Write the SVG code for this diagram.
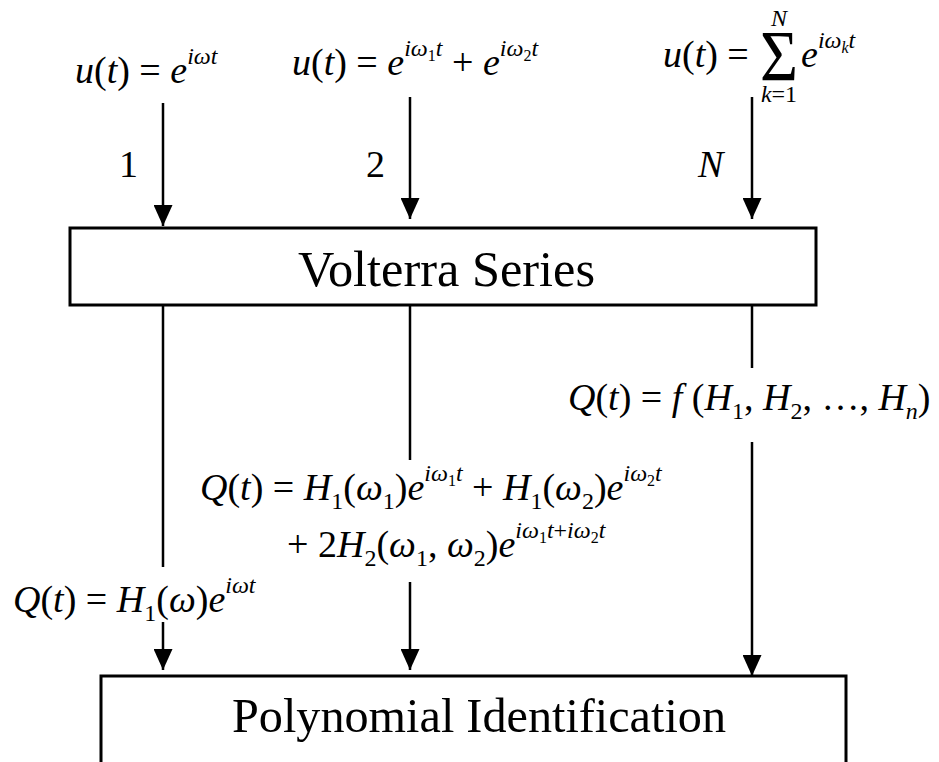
<svg xmlns="http://www.w3.org/2000/svg" width="939" height="762" viewBox="0 0 939 762">
<defs>
<marker id="ah" markerWidth="21" markerHeight="19" refX="21" refY="9.5" orient="auto" markerUnits="userSpaceOnUse" viewBox="0 0 21 19">
<path d="M0,0 L21,9.5 L0,19 Z" fill="#000"/>
</marker>
<style>
.f{font-family:"Liberation Serif","Times New Roman",serif;fill:#000}
.m{font-size:38px}
.i{font-style:italic}
.s{font-size:24px}
.ss{font-size:16px}
.box{fill:#fff;stroke:#000;stroke-width:3}
.ln{stroke:#000;stroke-width:2.5;fill:none}
.ar{stroke:#000;stroke-width:2.5;fill:none;marker-end:url(#ah)}
</style>
</defs>
<rect width="939" height="762" fill="#fff"/>

<g id="connectors">
<line class="ar" x1="163" y1="103" x2="163" y2="226"/>
<line class="ar" x1="410" y1="97" x2="410" y2="219"/>
<line class="ar" x1="752" y1="97" x2="752" y2="219"/>
<line class="ln" x1="163" y1="305" x2="163" y2="567"/>
<line class="ar" x1="163" y1="622" x2="163" y2="670"/>
<line class="ln" x1="410" y1="305" x2="410" y2="460"/>
<line class="ar" x1="410" y1="582" x2="410" y2="670"/>
<line class="ln" x1="752" y1="305" x2="752" y2="368"/>
<line class="ar" x1="752" y1="442" x2="752" y2="676"/>
<text class="f m" x="119" y="177">1</text>
<text class="f m" x="366" y="177">2</text>
<text class="f m i" x="698" y="177">N</text>
</g>

<g id="input1">
<text class="f m" x="75" y="83"><tspan class="i">u</tspan>(<tspan class="i">t</tspan>) = <tspan class="i">e</tspan><tspan class="s i" y="64">iωt</tspan></text>
</g>

<g id="input2">
<text class="f m" x="292" y="75"><tspan class="i">u</tspan>(<tspan class="i">t</tspan>) = <tspan class="i">e</tspan><tspan class="s i" y="56">iω</tspan><tspan class="ss" y="61">1</tspan><tspan class="s i" y="56">t</tspan><tspan y="75"> + </tspan><tspan class="i">e</tspan><tspan class="s i" y="56">iω</tspan><tspan class="ss" y="61">2</tspan><tspan class="s i" y="56">t</tspan></text>
</g>

<g id="inputN">
<text class="f m" x="663" y="67"><tspan class="i">u</tspan>(<tspan class="i">t</tspan>) =</text>
<text class="f" x="760" y="80" font-size="72" textLength="38" lengthAdjust="spacingAndGlyphs">Σ</text>
<text class="f s i" x="779" y="26" text-anchor="middle">N</text>
<text class="f s" x="779" y="102" text-anchor="middle"><tspan class="i">k</tspan>=1</text>
<text class="f m" x="801" y="67"><tspan class="i">e</tspan><tspan class="s i" y="48">iω</tspan><tspan class="ss i" y="53">k</tspan><tspan class="s i" y="48">t</tspan></text>
</g>

<g id="volterra">
<rect class="box" x="70" y="228" width="746" height="77"/>
<text class="f" x="298" y="286" font-size="50" textLength="297" lengthAdjust="spacingAndGlyphs">Volterra  Series</text>
</g>

<g id="outN">
<text class="f m" x="568" y="410"><tspan class="i">Q</tspan>(<tspan class="i">t</tspan>) = <tspan class="i">f </tspan>(<tspan class="i">H</tspan><tspan class="s" y="419">1</tspan><tspan y="410">, </tspan><tspan class="i">H</tspan><tspan class="s" y="419">2</tspan><tspan y="410">, …, </tspan><tspan class="i">H</tspan><tspan class="s i" y="419">n</tspan><tspan y="410">)</tspan></text>
</g>

<g id="out2">
<text class="f m" x="200" y="500"><tspan class="i">Q</tspan>(<tspan class="i">t</tspan>) = <tspan class="i">H</tspan><tspan class="s" y="509">1</tspan><tspan y="500">(</tspan><tspan class="i">ω</tspan><tspan class="s" y="509">1</tspan><tspan y="500">)</tspan><tspan class="i">e</tspan><tspan class="s i" y="481">iω</tspan><tspan class="ss" y="486">1</tspan><tspan class="s i" y="481">t</tspan><tspan y="500"> + </tspan><tspan class="i">H</tspan><tspan class="s" y="509">1</tspan><tspan y="500">(</tspan><tspan class="i">ω</tspan><tspan class="s" y="509">2</tspan><tspan y="500">)</tspan><tspan class="i">e</tspan><tspan class="s i" y="481">iω</tspan><tspan class="ss" y="486">2</tspan><tspan class="s i" y="481">t</tspan></text>
<text class="f m" x="287" y="557">+ 2<tspan class="i">H</tspan><tspan class="s" y="566">2</tspan><tspan y="557">(</tspan><tspan class="i">ω</tspan><tspan class="s" y="566">1</tspan><tspan y="557">, </tspan><tspan class="i">ω</tspan><tspan class="s" y="566">2</tspan><tspan y="557">)</tspan><tspan class="i">e</tspan><tspan class="s i" y="538">iω</tspan><tspan class="ss" y="543">1</tspan><tspan class="s i" y="538">t</tspan><tspan class="s" y="538">+</tspan><tspan class="s i" y="538">iω</tspan><tspan class="ss" y="543">2</tspan><tspan class="s i" y="538">t</tspan></text>
</g>

<g id="out1">
<text class="f m" x="13" y="612"><tspan class="i">Q</tspan>(<tspan class="i">t</tspan>) = <tspan class="i">H</tspan><tspan class="s" y="621">1</tspan><tspan y="612">(</tspan><tspan class="i">ω</tspan><tspan y="612">)</tspan><tspan class="i">e</tspan><tspan class="s i" y="593">iωt</tspan></text>
</g>

<g id="polynomial">
<rect class="box" x="101" y="676" width="745" height="100"/>
<text class="f" x="232" y="732" font-size="48" textLength="494" lengthAdjust="spacingAndGlyphs">Polynomial Identification</text>
</g>
</svg>
